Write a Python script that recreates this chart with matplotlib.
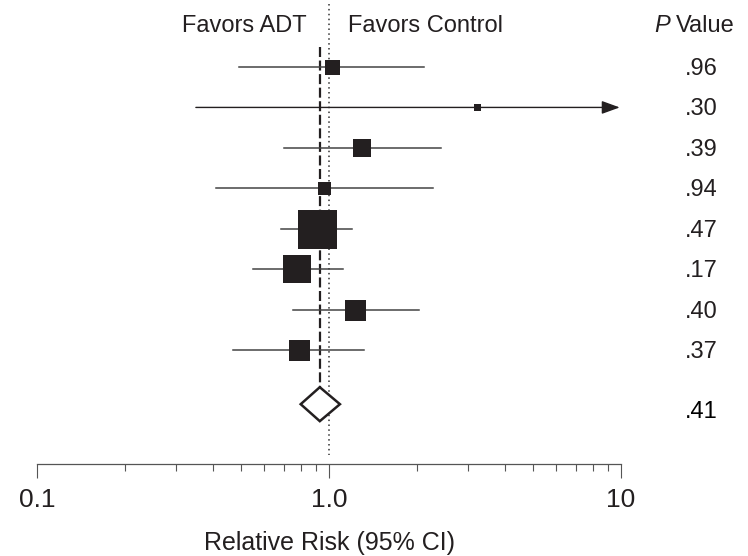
import numpy as np
import matplotlib
matplotlib.use("Agg")
import matplotlib.pyplot as plt
from matplotlib.patches import Polygon

plt.rcParams['font.family'] = ['Liberation Sans', 'DejaVu Sans']

# study estimates (relative risk with 95% CI)
rr = [1.02, 3.21, 1.30, 0.965, 0.91, 0.78, 1.23, 0.79]
lo = [0.49, 0.35, 0.70, 0.41, 0.685, 0.55, 0.75, 0.47]
hi = [2.12, 9.9, 2.42, 2.27, 1.20, 1.12, 2.03, 1.32]
box_px = [15, 7, 18, 13, 39, 28, 21, 21]   # square side in pixels (study weight)
pvals = [".96", ".30", ".39", ".94", ".47", ".17", ".40", ".37"]

pooled_rr = 0.93
pooled_lo = 0.80
pooled_hi = 1.09
pooled_p = ".41"

ink = "#231f20"
W, H = 748, 556
row_px = 40.43
top_px = 67
y_pool = 8.34

fig = plt.figure(figsize=(W / 100, H / 100), dpi=100)
ax_bottom = 464
ax = fig.add_axes([37 / W, 1 - ax_bottom / H, 584 / W, ax_bottom / H])
ax.set_xscale("log")
ax.set_xlim(0.1, 10)
ax.set_ylim((ax_bottom - top_px) / row_px, -top_px / row_px)

rows = np.arange(len(rr))
for i in rows:
    if hi[i] > 9:
        ax.annotate("", xy=(hi[i], i), xytext=(lo[i], i),
                    arrowprops=dict(arrowstyle="-|>,head_length=1.1,head_width=0.4",
                                    color=ink, lw=1.0, shrinkA=0, shrinkB=0))
    else:
        ax.plot([lo[i], hi[i]], [i, i], color="#444444", lw=1.1, zorder=2)
    ax.plot(rr[i], i, marker="s", ms=box_px[i] * 0.72, color=ink, mec=ink,
            mew=0, zorder=3, linestyle="none")

# pooled diamond
dh = 0.42
diamond = Polygon([[pooled_lo, y_pool], [pooled_rr, y_pool - dh],
                   [pooled_hi, y_pool], [pooled_rr, y_pool + dh]],
                  closed=True, facecolor="white", edgecolor=ink, lw=1.8, zorder=4)
ax.add_patch(diamond)

# reference lines
ax.plot([pooled_rr, pooled_rr], [-0.5, y_pool - dh], color=ink, lw=1.6,
        dashes=(4.5, 1.6), zorder=1)
ax.plot([1, 1], [-1.55, (455 - top_px) / row_px], color="#333333", lw=1.1,
        dashes=(1, 2.2), zorder=1)

for s in ["left", "right", "top"]:
    ax.spines[s].set_visible(False)
ax.spines["bottom"].set_color("#555555")
ax.spines["bottom"].set_linewidth(0.9)
ax.set_yticks([])
ax.set_xticks([0.1, 1, 10])
ax.set_xticklabels(["0.1", "1.0", "10"])
ax.tick_params(axis="x", which="major", length=10, width=0.8, color="#555555",
               labelsize=19, labelcolor=ink, pad=7)
ax.tick_params(axis="x", which="minor", length=5, width=0.8, color="#555555")
ax.xaxis.set_minor_formatter(matplotlib.ticker.NullFormatter())

# header
def fy(px):
    return 1 - px / H

fig.text(307 / W, fy(32), "Favors ADT", ha="right", va="baseline",
         fontsize=17, color=ink)
fig.text(348 / W, fy(32), "Favors Control", ha="left", va="baseline",
         fontsize=17, color=ink)
fig.text(654 / W, fy(32), "P", ha="left", va="baseline", fontsize=17,
         color=ink, fontstyle="italic")
fig.text(676 / W, fy(32), "Value", ha="left", va="baseline", fontsize=17, color=ink)

for i, p in enumerate(pvals):
    fig.text(685 / W, fy(top_px + i * row_px + 8), p, ha="left", va="baseline",
             fontsize=17, color=ink)
fig.text(685 / W, fy(418), pooled_p, ha="left", va="baseline", fontsize=17,
         color="black")

fig.text(330 / W, fy(550), "Relative Risk (95% CI)", ha="center", va="baseline",
         fontsize=18, color=ink)

fig.savefig("out.png", dpi=100)
